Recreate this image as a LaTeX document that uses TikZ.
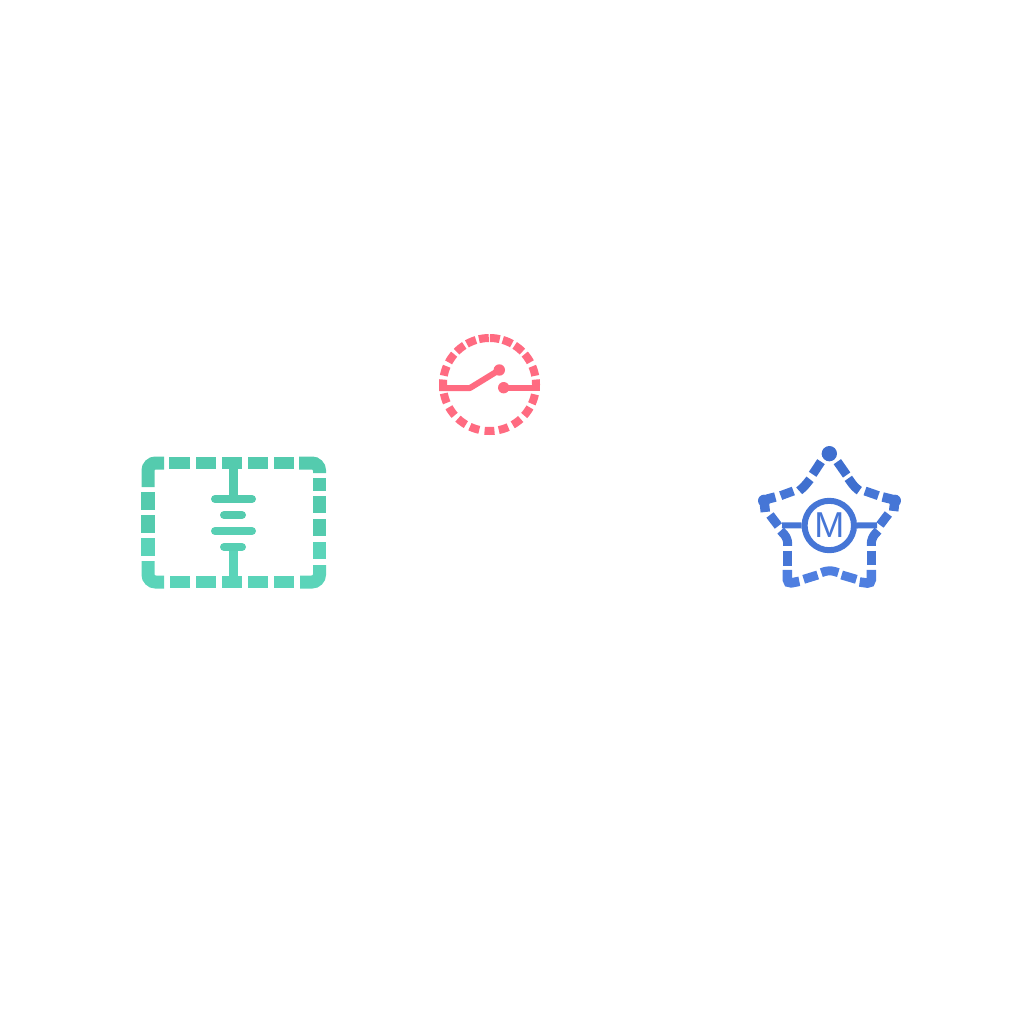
\documentclass[tikz,border=0pt]{standalone}
\usepackage{fontspec}
\setmainfont{Liberation Sans}
\definecolor{tealA}{HTML}{54CBAE}
\definecolor{tealB}{HTML}{57CFB3}
\definecolor{tealC}{HTML}{5BD4B9}
\definecolor{roseA}{HTML}{FF6B81}
\definecolor{blueA}{HTML}{3F6FCF}
\definecolor{blueB}{HTML}{4676D6}
\definecolor{blueC}{HTML}{4F7FE0}
\tikzset{
  hseg/.style={line width=12pt,line cap=butt},
  vseg/.style={line width=14pt,line cap=butt},
  cornerseg/.style={line width=13pt,line cap=butt,rounded corners=7.5pt},
  plate/.style={line width=8pt,line cap=round},
  stem/.style={line width=9pt,line cap=butt},
  ringseg/.style={line width=8pt,line cap=butt,color=roseA},
  wire/.style={line width=6pt,line cap=butt,color=roseA},
  starseg/.style={line width=9pt,line cap=butt,rounded corners=5pt},
  tipseg/.style={line width=9.5pt,line cap=butt,rounded corners=4pt},
  motorwire/.style={line width=6pt,line cap=butt,color=blueB},
  motorlabel/.style={font=\fontsize{36}{36}\selectfont,text=blueB,inner sep=0pt}
}
\begin{document}
\begin{tikzpicture}[x=1pt,y=-1pt]
\useasboundingbox (0,0) rectangle (1024,1024);
% rectangle
\begin{scope}[color=tealA]
\draw[cornerseg] (148,487) -- (148,463) -- (164,463);
\draw[cornerseg] (299,463) -- (319.5,463) -- (319.5,473);
\foreach \a/\b in {169/190,196/216,222/242,248/268,274/294} \draw[hseg] (\a,463) -- (\b,463);
\foreach \a/\b in {492/510,515/533} \draw[vseg] (148,\a) -- (148,\b);
\foreach \a/\b in {478/491,496/513,519/536} \draw[vseg,line width=13pt] (319.5,\a) -- (319.5,\b);
\draw[stem] (233,469) -- (233,497);
\draw[plate] (215,499) -- (252,499);
\draw[plate] (224,515) -- (242,515);
\end{scope}
\begin{scope}[color=tealC]
\draw[cornerseg] (148,561) -- (148,582) -- (164,582);
\draw[cornerseg] (300,582) -- (319.5,582) -- (319.5,565);
\foreach \a/\b in {170/190,196/216,222/242,248/268,274/294} \draw[hseg] (\a,582) -- (\b,582);
\draw[vseg] (148,538) -- (148,556);
\draw[vseg,line width=13pt] (319.5,542) -- (319.5,559);
\draw[stem] (233,549) -- (233,576);
\draw[plate,color=tealB] (215,531) -- (252,531);
\draw[plate,color=tealB] (224,547) -- (242,547);
\end{scope}
% switch
\foreach \t in {83.4,67.3,51.1,34.7,16.9,0,-18.4,-35.7,-54,-72.4,-90,-108.8,-126.6,-144.6,-162.9,180,163,145.5,129,113,97}
  \draw[ringseg] plot[domain=\t-6.1:\t+6.1,samples=7,smooth] ({489.5+46.5*cos(\x)},{384.5-46.5*sin(\x)});
\draw[wire,line join=round] (439,388) -- (470,388) -- (499.3,370);
\draw[wire] (503.7,387.7) -- (540,387.7);
\fill[roseA] (499.3,370) circle (5.7);
\fill[roseA] (503.7,387.7) circle (5.7);
% star
\begin{scope}[shift={(750,440)},x=0.3333pt,y=-0.3333pt]
\begin{scope}[color=blueA]
\fill (238,41) circle (23);
\draw[tipseg] (226,52) -- (238,38) -- (250,52);
\draw[starseg] (213,65) -- (188,103);
\draw[starseg] (180,118) -- (160,143) -- (148,152);
\draw[starseg] (262,65) -- (290,105);
\draw[starseg] (295,115) -- (315,143) -- (328,152);
\end{scope}
\begin{scope}[color=blueB]
\draw[starseg] (92,167) -- (130,153);
\draw[starseg] (345,153) -- (385,167);
\fill (42,182) circle (18);
\fill (435,182) circle (18);
\draw[tipseg] (76,171) -- (42,180) -- (46,216);
\draw[tipseg] (398,171) -- (435,180) -- (431,213);
\draw[starseg] (60,225) -- (85,258);
\draw[starseg] (415,222) -- (390,255);
\draw[starseg] (92,272) -- (113,295) -- (113,318);
\draw[starseg] (384,272) -- (364,295) -- (364,318);
\draw[starseg] (113,332) -- (113,378);
\draw[starseg] (364,332) -- (364,375);
\end{scope}
\begin{scope}[color=blueC]
\draw[tipseg] (112,390) -- (112,431) -- (148,424);
\draw[tipseg] (364,390) -- (364,431) -- (329,426);
\draw[starseg] (161,418) -- (203,405);
\draw[starseg] (214,398) -- (238,390) -- (265,398);
\draw[starseg] (275,405) -- (319,418);
\end{scope}
\end{scope}
% motor
\node[circle,draw=blueB,line width=6pt,minimum size=49.4pt,inner sep=0pt] (motor) at (829.3,525.5) {};
\node[motorlabel] (mlabel) at (829.3,525.5) {M};
\coordinate (leadL) at (782,525.3);
\coordinate (leadR) at (877,525.3);
\draw[motorwire] (leadL) -- (motor.west);
\draw[motorwire] (motor.east) -- (leadR);
\end{tikzpicture}
\end{document}
